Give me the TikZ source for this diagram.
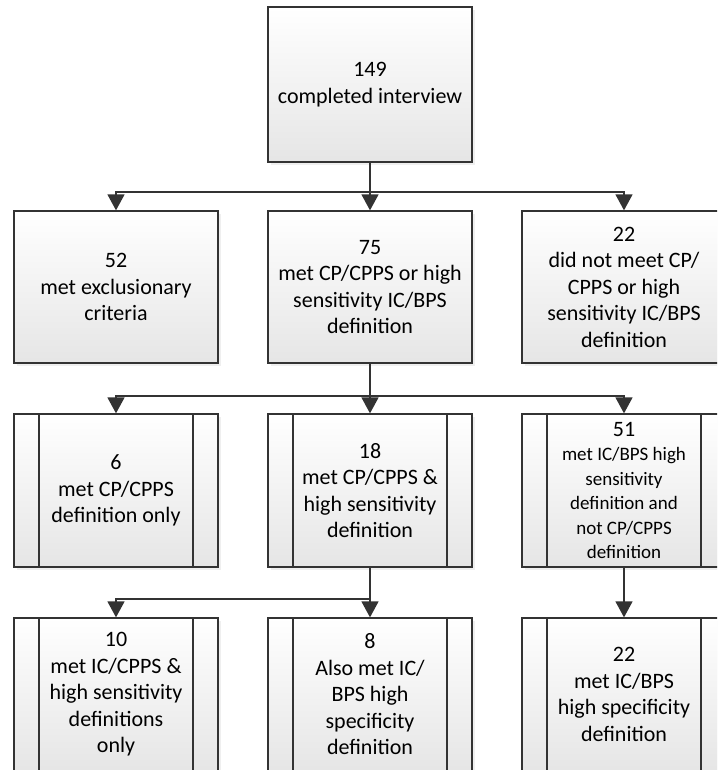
\documentclass[tikz,border=0pt]{standalone}
\usepackage{fontspec}
\setmainfont{Carlito}
\usetikzlibrary{arrows.meta,shadows}

\begin{document}
\begin{tikzpicture}[x=1pt,y=-1pt]
  % Local definitions
  \def\barinset{25pt}

  % Colors
  \colorlet{linecolor}{black!80}
  \colorlet{boxtop}{white}
  \colorlet{boxbottom}{black!10}

  % Styles
  \tikzstyle{box}=[draw=linecolor,line width=1.3pt,top color=boxtop,bottom color=boxbottom,
    minimum width=204pt,minimum height=153pt,inner sep=0pt,align=center,
    font=\fontsize{22}{26.5}\selectfont,
    drop shadow={shadow xshift=3pt,shadow yshift=-3pt,fill=black!12}]
  \tikzstyle{sub box}=[box,path picture={
      \draw[linecolor,line width=1.3pt]
        ([xshift=\barinset]path picture bounding box.north west) -- ([xshift=\barinset]path picture bounding box.south west)
        ([xshift=-\barinset]path picture bounding box.north east) -- ([xshift=-\barinset]path picture bounding box.south east);}]
  \tikzstyle{small text}=[font=\fontsize{19}{24.5}\selectfont]
  \tikzstyle{link}=[draw=linecolor,line width=1.5pt,-{Triangle[length=16pt,width=17pt]}]

  % The graphic
  \useasboundingbox (0,0) rectangle (717,770);
  \clip (0,0) rectangle (717,770);

  \node[box] (total) at (370,84.5) [minimum height=155pt] {149\\completed interview};

  \node[box] (excl) at (116,287) [minimum height=152pt] {52\\met exclusionary\\criteria};
  \node[box] (met) at (370,287) [minimum height=152pt] {75\\met CP/CPPS or high\\sensitivity IC/BPS\\definition};
  \node[box] (notmet) at (624,287) [minimum height=152pt] {22\\did not meet CP/\\CPPS or high\\sensitivity IC/BPS\\definition};

  \node[sub box] (cponly) at (116,490.5) {6\\met CP/CPPS\\definition only};
  \node[sub box] (both) at (370,490.5) {18\\met CP/CPPS \&\\high sensitivity\\definition};
  \node[sub box,small text] (iconly) at (624,490.5)
    {\fontsize{22}{26.5}\selectfont 51\\met IC/BPS high\\sensitivity\\definition and\\not CP/CPPS\\definition};

  \node[sub box] (icboth) at (116,694.5) {10\\met IC/CPPS \&\\high sensitivity\\definitions\\only};
  \node[sub box] (also) at (370,694.5) {8\\Also met IC/\\BPS high\\specificity\\definition};
  \node[sub box] (icspec) at (624,694.5) {22\\met IC/BPS\\high specificity\\definition};

  % Connectors
  \coordinate (split1) at (370,192);
  \coordinate (split2) at (370,396);
  \coordinate (split3) at (370,599);

  \draw[link] (total.south) -- (met.north);
  \draw[link] (split1) -| (excl.north);
  \draw[link] (split1) -| (notmet.north);

  \draw[link] (met.south) -- (both.north);
  \draw[link] (split2) -| (cponly.north);
  \draw[link] (split2) -| (iconly.north);

  \draw[link] (both.south) -- (also.north);
  \draw[link] (split3) -| (icboth.north);
  \draw[link] (iconly.south) -- (icspec.north);
\end{tikzpicture}
\end{document}
